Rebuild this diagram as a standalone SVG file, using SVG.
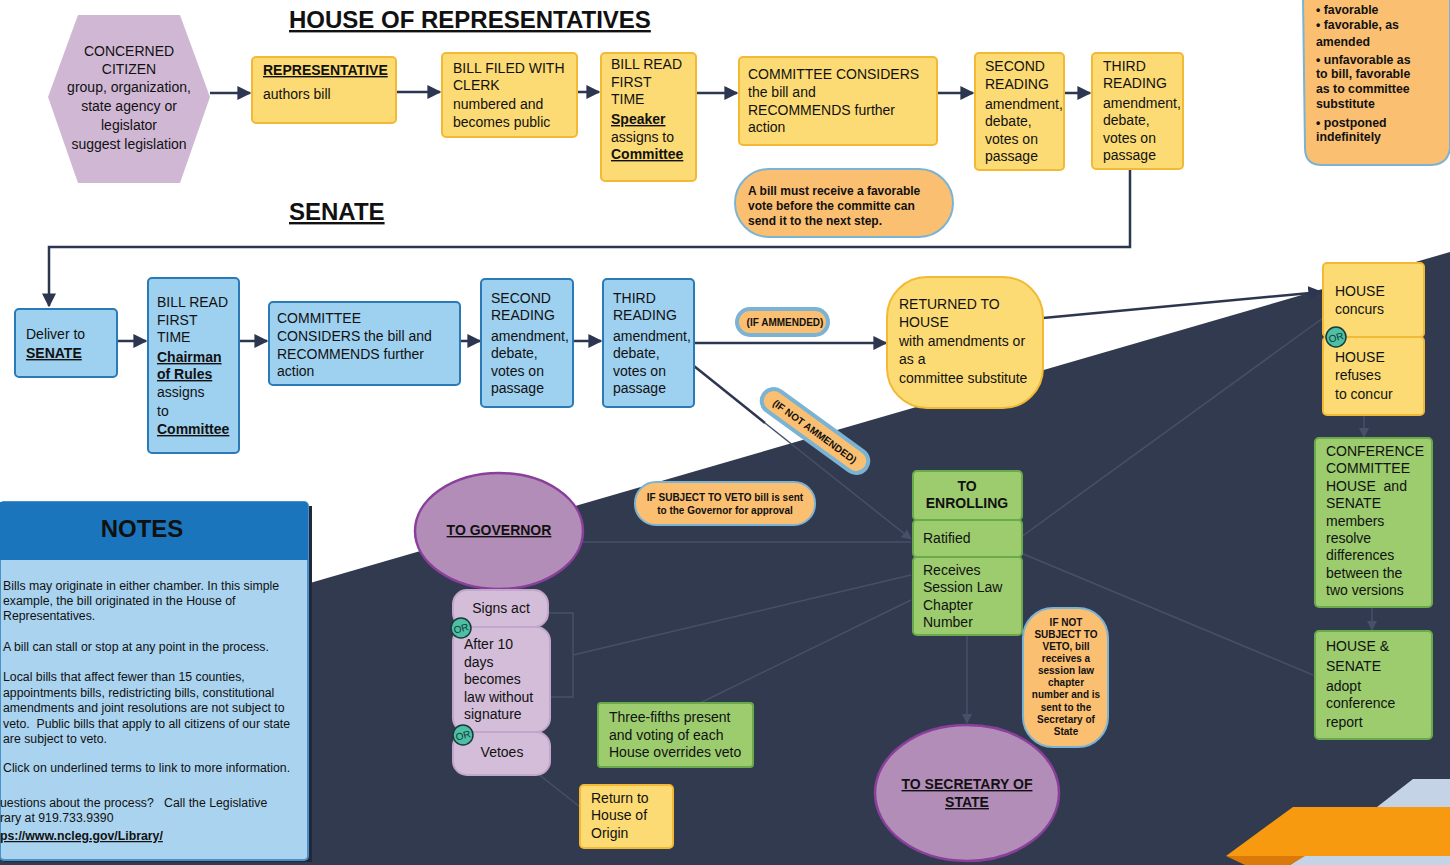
<svg xmlns="http://www.w3.org/2000/svg" width="1450" height="865" viewBox="0 0 1450 865">
<defs>
<marker id="ah" viewBox="0 0 10 10" refX="9" refY="5" markerWidth="14" markerHeight="14" markerUnits="userSpaceOnUse" orient="auto"><path d="M0,0 L10,5 L0,10 z" fill="#2d3650"/></marker>
<marker id="ahd" viewBox="0 0 10 10" refX="9" refY="5" markerWidth="10" markerHeight="10" markerUnits="userSpaceOnUse" orient="auto"><path d="M0,0 L10,5 L0,10 z" fill="#465068"/></marker>
<style>
text{font-family:"Liberation Sans",Arial,sans-serif;fill:#111;}
.t{font-size:14px;}
.b{font-weight:bold;}
.u{text-decoration:underline;}
.yel{fill:#fcdb74;stroke:#f2b935;stroke-width:2;}
.blu{fill:#9ed0ef;stroke:#2a7ab8;stroke-width:2;}
.grn{fill:#9ccc6e;stroke:#6aaa4a;stroke-width:2;}
.pur{fill:#d3bdd9;stroke:#c2a6cb;stroke-width:2;}
.ell{fill:#b28db8;stroke:#8a3f9a;stroke-width:2.5;}
.org{fill:#fbbf72;stroke:#7ab3d4;stroke-width:2;}
.pill{fill:#fbbf72;stroke:#7ab3d4;stroke-width:4;}
.ln{fill:none;stroke:#2d3650;stroke-width:2.5;}
.dl{fill:none;stroke:#465068;stroke-width:1.5;}
.orb{fill:#4dbfa5;stroke:#173b3a;stroke-width:1.5;}
.ort{font-size:10px;fill:#173b3a;}
.sm{font-size:12.3px;white-space:pre;}
.tiny{font-size:10px;font-weight:bold;}
</style>
</defs>
<rect x="0" y="0" width="1450" height="865" fill="#ffffff"/>
<polygon points="0,673 1450,252 1450,865 0,865" fill="#323a4f"/>
<polygon points="1413,779 1450,779 1450,865 1290,865 1377,807" fill="#c5d3e6"/>
<polygon points="1293,807 1450,807 1450,856 1226,856" fill="#f79a0f"/>
<polygon points="1226,856 1305,856 1290,865 1245,865" fill="#d97a0a"/>

<text x="289" y="28" class="b u" font-size="24">HOUSE OF REPRESENTATIVES</text>
<text x="289" y="220" class="b u" font-size="24">SENATE</text>

<g id="connectors">
<line x1="210" y1="93" x2="250" y2="93" class="ln" marker-end="url(#ah)"/>
<line x1="396" y1="92" x2="440" y2="92" class="ln" marker-end="url(#ah)"/>
<line x1="577" y1="92" x2="599" y2="92" class="ln" marker-end="url(#ah)"/>
<line x1="696" y1="93" x2="737" y2="93" class="ln" marker-end="url(#ah)"/>
<line x1="937" y1="93" x2="973" y2="93" class="ln" marker-end="url(#ah)"/>
<line x1="1064" y1="93" x2="1090" y2="93" class="ln" marker-end="url(#ah)"/>
<polyline points="1130,169 1130,247 49,247 49,306" class="ln" marker-end="url(#ah)"/>
<line x1="117" y1="341" x2="146" y2="341" class="ln" marker-end="url(#ah)"/>
<line x1="239" y1="341" x2="267" y2="341" class="ln" marker-end="url(#ah)"/>
<line x1="460" y1="341" x2="480" y2="341" class="ln" marker-end="url(#ah)"/>
<line x1="573" y1="341" x2="601" y2="341" class="ln" marker-end="url(#ah)"/>
<line x1="694" y1="343" x2="886" y2="343" class="ln" marker-end="url(#ah)"/>
<line x1="1043" y1="318" x2="1321" y2="292" class="ln" marker-end="url(#ah)"/>
<line x1="694" y1="366" x2="765" y2="423" class="ln"/>
<line x1="765" y1="423" x2="911" y2="539" class="dl" marker-end="url(#ahd)"/>
<line x1="1021" y1="537" x2="1323" y2="318" class="dl"/>
<line x1="1021" y1="553" x2="1313" y2="675" class="dl"/>
<line x1="1364" y1="415" x2="1364" y2="437" class="dl" marker-end="url(#ahd)"/>
<line x1="1372" y1="607" x2="1372" y2="630" class="dl" marker-end="url(#ahd)"/>
<line x1="911" y1="542" x2="583" y2="542" class="dl"/>
<polyline points="548,613 573,613 573,697 550,697" class="dl"/>
<line x1="573" y1="655" x2="911" y2="575" class="dl"/>
<line x1="700" y1="703" x2="911" y2="600" class="dl"/>
<line x1="537" y1="773" x2="580" y2="807" class="dl"/>
<line x1="967" y1="635" x2="967" y2="723" class="dl" marker-end="url(#ahd)"/>
</g>

<g id="citizen">
<polygon points="78,15 180,15 210,97 180,183 78,183 48,97" fill="#d0b8d5"/>
<text class="t" text-anchor="middle" font-size="13.5"><tspan x="129" y="56">CONCERNED</tspan><tspan x="129" y="74">CITIZEN</tspan><tspan x="129" y="92">group, organization,</tspan><tspan x="129" y="111">state agency or</tspan><tspan x="129" y="130">legislator</tspan><tspan x="129" y="149">suggest legislation</tspan></text>
</g>
<g id="representative">
<rect x="252" y="57" width="144" height="66" rx="4" class="yel"/>
<text x="263" y="75" class="t b u">REPRESENTATIVE</text>
<text x="263" y="99" class="t">authors bill</text>
</g>
<g id="filed">
<rect x="442" y="53" width="135" height="84" rx="4" class="yel"/>
<text class="t"><tspan x="453" y="73">BILL FILED WITH</tspan><tspan x="453" y="90">CLERK</tspan><tspan x="453" y="109">numbered and</tspan><tspan x="453" y="127">becomes public</tspan></text>
</g>
<g id="house-first">
<rect x="601" y="53" width="95" height="128" rx="4" class="yel"/>
<text class="t"><tspan x="611" y="69">BILL READ</tspan><tspan x="611" y="87">FIRST</tspan><tspan x="611" y="104">TIME</tspan></text>
<text x="611" y="124" class="t b u">Speaker</text>
<text x="611" y="142" class="t">assigns to</text>
<text x="611" y="159" class="t b u">Committee</text>
</g>
<g id="house-committee">
<rect x="739" y="57" width="198" height="88" rx="4" class="yel"/>
<text class="t"><tspan x="748" y="79">COMMITTEE CONSIDERS</tspan><tspan x="748" y="97">the bill and</tspan><tspan x="748" y="115">RECOMMENDS further</tspan><tspan x="748" y="132">action</tspan></text>
</g>
<g id="house-second">
<rect x="975" y="53" width="89" height="117" rx="4" class="yel"/>
<text class="t"><tspan x="985" y="71">SECOND</tspan><tspan x="985" y="89">READING</tspan><tspan x="985" y="109">amendment,</tspan><tspan x="985" y="126">debate,</tspan><tspan x="985" y="144">votes on</tspan><tspan x="985" y="161">passage</tspan></text>
</g>
<g id="house-third">
<rect x="1092" y="53" width="91" height="116" rx="4" class="yel"/>
<text class="t"><tspan x="1103" y="71">THIRD</tspan><tspan x="1103" y="88">READING</tspan><tspan x="1103" y="108">amendment,</tspan><tspan x="1103" y="125">debate,</tspan><tspan x="1103" y="143">votes on</tspan><tspan x="1103" y="160">passage</tspan></text>
</g>
<g id="favorable-note">
<rect x="735" y="169" width="218" height="68" rx="34" class="org"/>
<text class="b" font-size="12"><tspan x="748" y="195">A bill must receive a favorable</tspan><tspan x="748" y="210">vote before the committe can</tspan><tspan x="748" y="225">send it to the next step.</tspan></text>
</g>
<g id="report-options">
<path d="M1303,-2 L1450,-2 L1450,148 Q1448,165 1430,165 L1322,165 Q1305,165 1305,148 Z" class="org" stroke-width="1.5"/>
<text class="b" font-size="12.3"><tspan x="1316" y="14">• favorable</tspan><tspan x="1316" y="29">• favorable, as</tspan><tspan x="1316" y="46">amended</tspan><tspan x="1316" y="64">• unfavorable as</tspan><tspan x="1316" y="78">to bill, favorable</tspan><tspan x="1316" y="93">as to committee</tspan><tspan x="1316" y="108">substitute</tspan><tspan x="1316" y="127">• postponed</tspan><tspan x="1316" y="141">indefinitely</tspan></text>
</g>

<g id="deliver-senate">
<rect x="15" y="309" width="102" height="68" rx="4" class="blu"/>
<text x="26" y="339" class="t">Deliver to</text>
<text x="26" y="358" class="t b u">SENATE</text>
</g>
<g id="senate-first">
<rect x="148" y="278" width="91" height="175" rx="4" class="blu"/>
<text class="t"><tspan x="157" y="307">BILL READ</tspan><tspan x="157" y="325">FIRST</tspan><tspan x="157" y="342">TIME</tspan></text>
<text class="t b u"><tspan x="157" y="362">Chairman</tspan><tspan x="157" y="379">of Rules</tspan></text>
<text class="t"><tspan x="157" y="397">assigns</tspan><tspan x="157" y="416">to</tspan></text>
<text x="157" y="434" class="t b u">Committee</text>
</g>
<g id="senate-committee">
<rect x="269" y="302" width="191" height="83" rx="4" class="blu"/>
<text class="t"><tspan x="277" y="323">COMMITTEE</tspan><tspan x="277" y="341">CONSIDERS the bill and</tspan><tspan x="277" y="359">RECOMMENDS further</tspan><tspan x="277" y="376">action</tspan></text>
</g>
<g id="senate-second">
<rect x="481" y="279" width="92" height="128" rx="4" class="blu"/>
<text class="t"><tspan x="491" y="303">SECOND</tspan><tspan x="491" y="320">READING</tspan><tspan x="491" y="341">amendment,</tspan><tspan x="491" y="358">debate,</tspan><tspan x="491" y="376">votes on</tspan><tspan x="491" y="393">passage</tspan></text>
</g>
<g id="senate-third">
<rect x="603" y="279" width="91" height="128" rx="4" class="blu"/>
<text class="t"><tspan x="613" y="303">THIRD</tspan><tspan x="613" y="320">READING</tspan><tspan x="613" y="341">amendment,</tspan><tspan x="613" y="358">debate,</tspan><tspan x="613" y="376">votes on</tspan><tspan x="613" y="393">passage</tspan></text>
</g>
<g id="if-amended">
<rect x="737" y="309" width="91" height="26" rx="13" class="pill"/>
<text x="785" y="326" text-anchor="middle" class="b" font-size="10">(IF AMMENDED)</text>
</g>
<g id="if-not-amended" transform="translate(815,431) rotate(36)">
<rect x="-63" y="-12" width="126" height="24" rx="12" class="pill"/>
<text x="0" y="4" text-anchor="middle" class="b" font-size="10">(IF NOT AMMENDED)</text>
</g>
<g id="returned">
<rect x="887" y="277" width="156" height="131" rx="40" class="yel"/>
<text class="t"><tspan x="899" y="309">RETURNED TO</tspan><tspan x="899" y="327">HOUSE</tspan><tspan x="899" y="346">with amendments or</tspan><tspan x="899" y="364">as a</tspan><tspan x="899" y="383">committee substitute</tspan></text>
</g>
<g id="house-concur">
<rect x="1323" y="263" width="101" height="74" rx="4" class="yel"/>
<rect x="1323" y="337" width="101" height="78" rx="4" class="yel"/>
<text class="t"><tspan x="1335" y="296">HOUSE</tspan><tspan x="1335" y="314">concurs</tspan><tspan x="1335" y="362">HOUSE</tspan><tspan x="1335" y="380">refuses</tspan><tspan x="1335" y="399">to concur</tspan></text>
<circle cx="1336" cy="337" r="10" class="orb"/>
<text x="1336" y="341" text-anchor="middle" class="ort" transform="rotate(-15 1336 337)">OR</text>
</g>
<g id="conference">
<rect x="1315" y="438" width="117" height="169" rx="4" class="grn"/>
<text class="t" style="white-space:pre"><tspan x="1326" y="456">CONFERENCE</tspan><tspan x="1326" y="473">COMMITTEE</tspan><tspan x="1326" y="491">HOUSE  and</tspan><tspan x="1326" y="508">SENATE</tspan><tspan x="1326" y="526">members</tspan><tspan x="1326" y="543">resolve</tspan><tspan x="1326" y="560">differences</tspan><tspan x="1326" y="578">between the</tspan><tspan x="1326" y="595">two versions</tspan></text>
</g>
<g id="adopt">
<rect x="1315" y="631" width="117" height="108" rx="4" class="grn"/>
<text class="t"><tspan x="1326" y="651">HOUSE &amp;</tspan><tspan x="1326" y="671">SENATE</tspan><tspan x="1326" y="691">adopt</tspan><tspan x="1326" y="708">conference</tspan><tspan x="1326" y="727">report</tspan></text>
</g>
<g id="enrolling">
<rect x="913" y="471" width="109" height="49" rx="4" class="grn"/>
<rect x="913" y="520" width="109" height="37" rx="4" class="grn"/>
<rect x="913" y="557" width="109" height="78" rx="4" class="grn"/>
<text class="t b" text-anchor="middle"><tspan x="967" y="491">TO</tspan><tspan x="967" y="508">ENROLLING</tspan></text>
<text x="923" y="543" class="t">Ratified</text>
<text class="t"><tspan x="923" y="575">Receives</tspan><tspan x="923" y="592">Session Law</tspan><tspan x="923" y="610">Chapter</tspan><tspan x="923" y="627">Number</tspan></text>
</g>
<g id="not-subject">
<rect x="1023" y="608" width="85" height="139" rx="30" class="org"/>
<text class="tiny" text-anchor="middle" font-size="9.5"><tspan x="1066" y="626">IF NOT</tspan><tspan x="1066" y="638">SUBJECT TO</tspan><tspan x="1066" y="650">VETO, bill</tspan><tspan x="1066" y="662">receives a</tspan><tspan x="1066" y="674">session law</tspan><tspan x="1066" y="686">chapter</tspan><tspan x="1066" y="698">number and is</tspan><tspan x="1066" y="711">sent to the</tspan><tspan x="1066" y="723">Secretary of</tspan><tspan x="1066" y="735">State</tspan></text>
</g>
<g id="secretary">
<ellipse cx="967" cy="793" rx="92" ry="68" class="ell"/>
<text class="t b u" text-anchor="middle"><tspan x="967" y="789">TO SECRETARY OF</tspan><tspan x="967" y="807">STATE</tspan></text>
</g>
<g id="subject-veto">
<rect x="635" y="482" width="180" height="43" rx="21" class="org"/>
<text class="tiny" text-anchor="middle"><tspan x="725" y="501">IF SUBJECT TO VETO bill is sent</tspan><tspan x="725" y="514">to the Governor for approval</tspan></text>
</g>
<g id="governor">
<ellipse cx="499" cy="531" rx="84" ry="58" class="ell"/>
<text x="499" y="535" text-anchor="middle" class="t b u">TO GOVERNOR</text>
</g>
<g id="governor-options">
<rect x="453" y="590" width="95" height="37" rx="14" class="pur"/>
<rect x="453" y="627" width="97" height="105" rx="14" class="pur"/>
<rect x="453" y="732" width="97" height="43" rx="14" class="pur"/>
<text x="501" y="613" text-anchor="middle" class="t">Signs act</text>
<text class="t"><tspan x="464" y="649">After 10</tspan><tspan x="464" y="667">days</tspan><tspan x="464" y="684">becomes</tspan><tspan x="464" y="702">law without</tspan><tspan x="464" y="719">signature</tspan></text>
<text x="502" y="757" text-anchor="middle" class="t">Vetoes</text>
<circle cx="461" cy="628" r="10" class="orb"/>
<text x="461" y="632" text-anchor="middle" class="ort" transform="rotate(-15 461 628)">OR</text>
<circle cx="463" cy="735" r="10" class="orb"/>
<text x="463" y="739" text-anchor="middle" class="ort" transform="rotate(-15 463 735)">OR</text>
</g>
<g id="override">
<rect x="598" y="703" width="155" height="64" rx="3" class="grn"/>
<text class="t"><tspan x="609" y="722">Three-fifths present</tspan><tspan x="609" y="740">and voting of each</tspan><tspan x="609" y="757">House overrides veto</tspan></text>
</g>
<g id="return-origin">
<rect x="580" y="785" width="93" height="63" rx="4" class="yel"/>
<text class="t"><tspan x="591" y="803">Return to</tspan><tspan x="591" y="820">House of</tspan><tspan x="591" y="838">Origin</tspan></text>
</g>

<g id="notes">
<rect x="4" y="506" width="308" height="356" fill="#20283a"/>
<rect x="0" y="502" width="308" height="358" rx="4" fill="#a9d3ef" stroke="#4a90c8" stroke-width="2"/>
<path d="M0,502 L304,502 Q308,502 308,506 L308,560 L0,560 Z" fill="#1b75bc"/>
<text x="142" y="537" text-anchor="middle" class="b" font-size="24">NOTES</text>
<text class="sm"><tspan x="3" y="590">Bills may originate in either chamber. In this simple</tspan><tspan x="3" y="605">example, the bill originated in the House of</tspan><tspan x="3" y="620">Representatives.</tspan><tspan x="3" y="651">A bill can stall or stop at any point in the process.</tspan><tspan x="3" y="681">Local bills that affect fewer than 15 counties,</tspan><tspan x="3" y="697">appointments bills, redistricting bills, constitutional</tspan><tspan x="3" y="712">amendments and joint resolutions are not subject to</tspan><tspan x="3" y="728">veto.  Public bills that apply to all citizens of our state</tspan><tspan x="3" y="743">are subject to veto.</tspan><tspan x="3" y="772">Click on underlined terms to link to more information.</tspan><tspan x="0" y="807">uestions about the process?   Call the Legislative</tspan><tspan x="0" y="822">rary at 919.733.9390</tspan></text>
<text x="0" y="840" class="sm b u">ps://www.ncleg.gov/Library/</text>
</g>
</svg>
